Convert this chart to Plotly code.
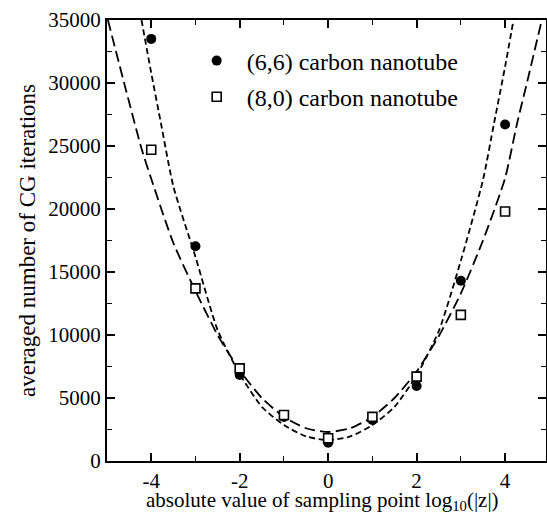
import plotly.graph_objects as go

# measured data points
x_pts = [-4, -3, -2, -1, 0, 1, 2, 3, 4]
y_66 = [33500, 17050, 6820, 3500, 1450, 3250, 5950, 14300, 26700]
y_80 = [24700, 13700, 7350, 3650, 1800, 3500, 6700, 11600, 19800]

# fitted curves
x_fit66 = [-4.22, -4.0, -3.78, -3.5, -3.0, -2.5, -2.0, -1.5, -1.0, -0.5, 0, 0.5, 1.0, 1.5, 2.0, 2.5, 3.0, 3.5, 3.75, 4.0, 4.19]
y_fit66 = [35000, 30800, 26800, 21800, 16200, 10400, 6900, 4300, 2850, 1950, 1650, 1950, 2850, 4300, 6800, 10300, 15900, 22300, 26800, 31300, 35000]
x_fit80 = [-4.98, -4.62, -4.22, -4.0, -3.5, -3.0, -2.5, -2.0, -1.5, -1.0, -0.5, 0, 0.5, 1.0, 1.5, 2.0, 2.5, 3.0, 3.5, 4.0, 4.27, 4.5, 4.83]
y_fit80 = [35000, 30100, 24800, 22400, 17300, 13500, 10000, 7200, 5000, 3500, 2600, 2300, 2600, 3500, 5000, 7100, 9900, 13300, 17500, 22450, 26780, 30100, 35000]

x_ticks = [-4, -2, 0, 2, 4]
y_ticks = [0, 5000, 10000, 15000, 20000, 25000, 30000, 35000]

X_TITLE = "absolute value of sampling point log<sub>10</sub>(|z|)"
Y_TITLE = "averaged number of CG iterations"

FONT = "Times New Roman"

fig = go.Figure()
fig.add_trace(go.Scatter(x=x_fit80, y=y_fit80, mode="lines", showlegend=False,
                         line=dict(color="black", width=1.8, dash="11px,5px", shape="spline", smoothing=0.6)))
fig.add_trace(go.Scatter(x=x_fit66, y=y_fit66, mode="lines", showlegend=False,
                         line=dict(color="black", width=1.8, dash="6px,3.5px", shape="spline", smoothing=0.6)))
fig.add_trace(go.Scatter(x=x_pts, y=y_66, mode="markers", name="(6,6) carbon nanotube",
                         legendgroup="a",
                         marker=dict(symbol="circle", size=10, color="black")))
fig.add_trace(go.Scatter(x=x_pts, y=y_80, mode="markers", name="(8,0) carbon nanotube",
                         legendgroup="b",
                         marker=dict(symbol="square", size=9, color="white",
                                     line=dict(color="black", width=1.6))))

axis_common = dict(
    showline=True, linecolor="black", linewidth=2, mirror="allticks",
    ticks="inside", ticklen=8, tickwidth=1.6, tickcolor="black",
    showgrid=False, zeroline=False, automargin=False,
    tickfont=dict(family=FONT, size=21, color="black"),
)

fig.update_xaxes(
    **axis_common,
    range=[-5, 4.925], tickmode="array", tickvals=x_ticks, ticktext=[str(v) for v in x_ticks],
    minor=dict(ticks="inside", ticklen=5, tickwidth=1.4, tickcolor="black", dtick=1, tick0=-5),
)
fig.update_yaxes(
    **axis_common,
    range=[0, 35000], tickmode="array", tickvals=y_ticks, ticktext=[str(v) for v in y_ticks],
    minor=dict(ticks="inside", ticklen=5, tickwidth=1.4, tickcolor="black", dtick=2500, tick0=0),
    title=dict(text=Y_TITLE, font=dict(family=FONT, size=23, color="black"), standoff=6),
)

fig.add_annotation(text=X_TITLE, xref="paper", yref="paper", x=0.49, y=-0.09,
                   xanchor="center", yanchor="middle", showarrow=False,
                   font=dict(family=FONT, size=21, color="black"))

fig.update_layout(
    width=547, height=516,
    margin=dict(l=107, r=1, t=20, b=55),
    paper_bgcolor="white", plot_bgcolor="white",
    font=dict(family=FONT, color="black"),
    legend=dict(x=0.1815, y=0.958, xanchor="left", yanchor="top",
                bgcolor="rgba(0,0,0,0)", font=dict(family=FONT, size=24, color="black"),
                tracegroupgap=2, traceorder="grouped", itemwidth=50),
)

fig.write_html("out.html")
